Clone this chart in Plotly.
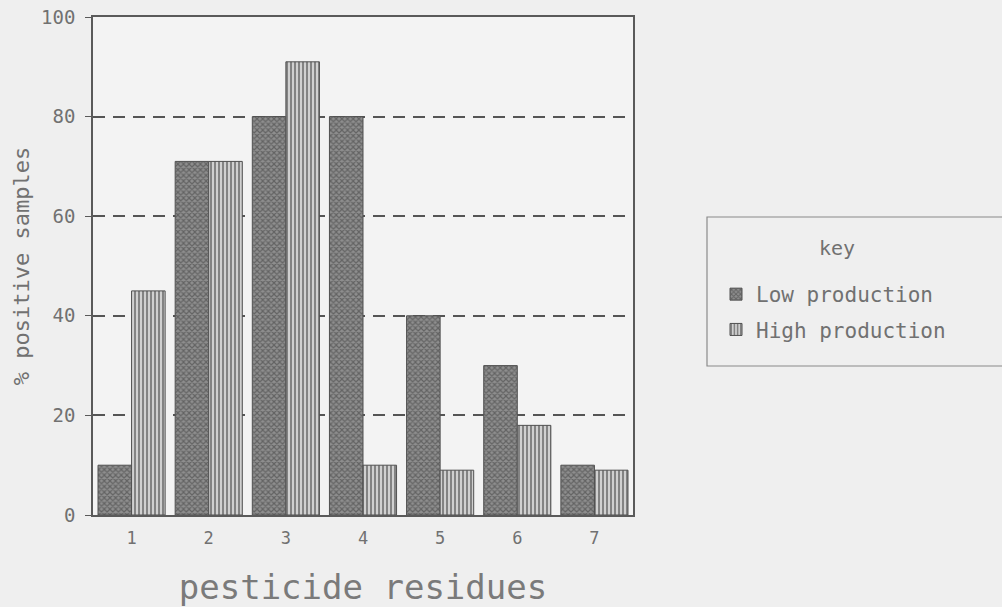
import plotly.graph_objects as go

categories = [1, 2, 3, 4, 5, 6, 7]
tick_labels = ["1", "2", "3", "4", "5", "6", "7"]
low_production = [10, 71, 80, 80, 40, 30, 10]
high_production = [45, 71, 91, 10, 9, 18, 9]
series_names = ["Low production", "High production"]

FONT = "DejaVu Sans Mono"
TXT = "#717171"
BG = "#efefef"

# plot area in pixels (reference): x 93..633, y 17..515
L, R, T, B = 93, 633, 17, 515
W, H = 1002, 607


def px_x(x):
    return (x - L) / (R - L)


def px_y(y):
    return (B - y) / (B - T)


fig = go.Figure()
fig.add_trace(go.Bar(
    x=categories, y=low_production, name=series_names[0], legendgroup="a",
    marker=dict(color="#7a7a7a", line=dict(color="#505050", width=1),
                pattern=dict(shape="x", size=4, solidity=0.5,
                             fgcolor="#383838", bgcolor="#8e8e8e")),
))
fig.add_trace(go.Bar(
    x=categories, y=high_production, name=series_names[1], legendgroup="b",
    marker=dict(color="#b0b0b0", line=dict(color="#505050", width=1),
                pattern=dict(shape="|", size=4, solidity=0.5,
                             fgcolor="#363636", bgcolor="#d0d0d0")),
))

fig.update_layout(
    width=W, height=H,
    paper_bgcolor=BG, plot_bgcolor="#f3f3f3",
    margin=dict(l=L, r=W - R, t=T, b=H - B),
    barmode="group", bargap=0.13, bargroupgap=0,
    font=dict(family=FONT, color=TXT, size=17),
    showlegend=True,
    legend=dict(x=px_x(716), y=px_y(274), xanchor="left", yanchor="top",
                bgcolor="rgba(0,0,0,0)", borderwidth=0,
                font=dict(family=FONT, size=21, color=TXT),
                tracegroupgap=5, itemwidth=30),
)

fig.update_xaxes(
    range=[0.5, 7.5], tickmode="array", tickvals=categories, ticktext=tick_labels,
    showline=True, mirror=True, linecolor="#5a5a5a", linewidth=1.5,
    ticks="", ticklabelstandoff=7, showgrid=False, zeroline=False,
    tickfont=dict(family=FONT, size=17, color=TXT),
    title=dict(text="pesticide residues", font=dict(family=FONT, size=34, color="#7a7a7a"),
               standoff=28),
    automargin=False,
)
fig.update_yaxes(
    range=[0, 100], dtick=20,
    showline=True, mirror=True, linecolor="#5a5a5a", linewidth=1.5,
    ticks="outside", ticklen=6, tickcolor="#5a5a5a", ticklabelstandoff=6,
    showgrid=True, gridcolor="#555555", griddash="12px,8px", gridwidth=1.5,
    zeroline=False,
    tickfont=dict(family=FONT, size=19, color=TXT),
    title=dict(text="% positive samples", font=dict(family=FONT, size=22, color=TXT),
               standoff=5),
    automargin=False,
)

# legend frame and key title
fig.add_shape(type="rect", xref="paper", yref="paper",
              x0=px_x(707), x1=px_x(1010), y0=px_y(366), y1=px_y(217),
              line=dict(color="#8a8a8a", width=1.2), fillcolor="rgba(0,0,0,0)")
fig.add_annotation(text="key", xref="paper", yref="paper",
                   x=px_x(857), y=px_y(248),
                   showarrow=False, font=dict(family=FONT, size=20, color=TXT))

fig.write_html(
    "out.html",
    config={"displayModeBar": False},
    post_script="document.body.style.margin='0';document.body.style.background='%s';" % BG,
)
